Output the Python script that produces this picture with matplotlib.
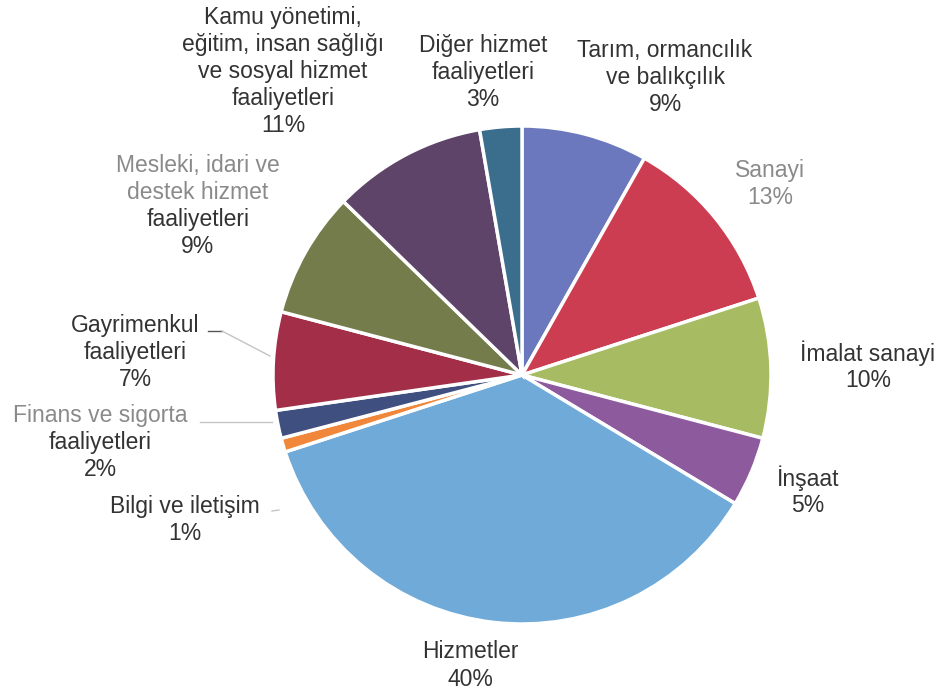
import matplotlib.pyplot as plt

plt.rcParams['font.family'] = ['Liberation Sans', 'DejaVu Sans']

# sector shares, clockwise from 12 o'clock
sectors = ['Tarım, ormancılık\nve balıkçılık', 'Sanayi', 'İmalat sanayi', 'İnşaat',
           'Hizmetler', 'Bilgi ve iletişim', 'Finans ve sigorta\nfaaliyetleri',
           'Gayrimenkul\nfaaliyetleri', 'Mesleki, idari ve\ndestek hizmet\nfaaliyetleri',
           'Kamu yönetimi,\neğitim, insan sağlığı\nve sosyal hizmet\nfaaliyetleri',
           'Diğer hizmet\nfaaliyetleri']
shares = [9, 13, 10, 5, 40, 1, 2, 7, 9, 11, 3]
colors = ['#6b78bd', '#cc3d52', '#a6bb62', '#8e5a9e', '#6faad8', '#f0873a',
          '#3f4f80', '#a22e47', '#737c4a', '#5e4468', '#3a6e8c']

# label layout in pixels (x centre, y of first line), and how many lines look faded
label_pos = [(665, 50), (770, 170), (868, 353), (808, 478), (470, 652), (185, 507),
             (100, 415), (135, 325), (198, 165), (283, 17), (483, 45)]
faded = [0, 2, 0, 0, 0, 0, 1, 0, 2, 0, 0]

W, H = 940, 691
fig = plt.figure(figsize=(W / 100, H / 100), dpi=100)
ax = fig.add_axes([0, 0, 1, 1])

ax.pie(shares, colors=colors, startangle=90, counterclock=False,
       center=(522, H - 375), radius=249,
       wedgeprops=dict(edgecolor='white', linewidth=2.5))
ax.set_xlim(0, W)
ax.set_ylim(0, H)
ax.set_aspect('equal')
ax.axis('off')

step = 27
for name, val, (x, y), nf in zip(sectors, shares, label_pos, faded):
    lines = name.split('\n') + ['%d%%' % val]
    for i, line in enumerate(lines):
        c = '#8a8a8a' if i < nf else '#333333'
        ax.text(x, H - (y + i * step), line, ha='center', va='center',
                fontsize=16.5, color=c)

# leader lines
lc = '#c4c4c4'
ax.plot([208, 222], [H - 331, H - 331], color='#555555', lw=1)
ax.plot([222, 270], [H - 331, H - 356], color=lc, lw=1)
ax.plot([200, 272], [H - 422, H - 422], color=lc, lw=1)
ax.plot([272, 279], [H - 511, H - 510], color=lc, lw=1)

fig.savefig('out.png', dpi=100)
